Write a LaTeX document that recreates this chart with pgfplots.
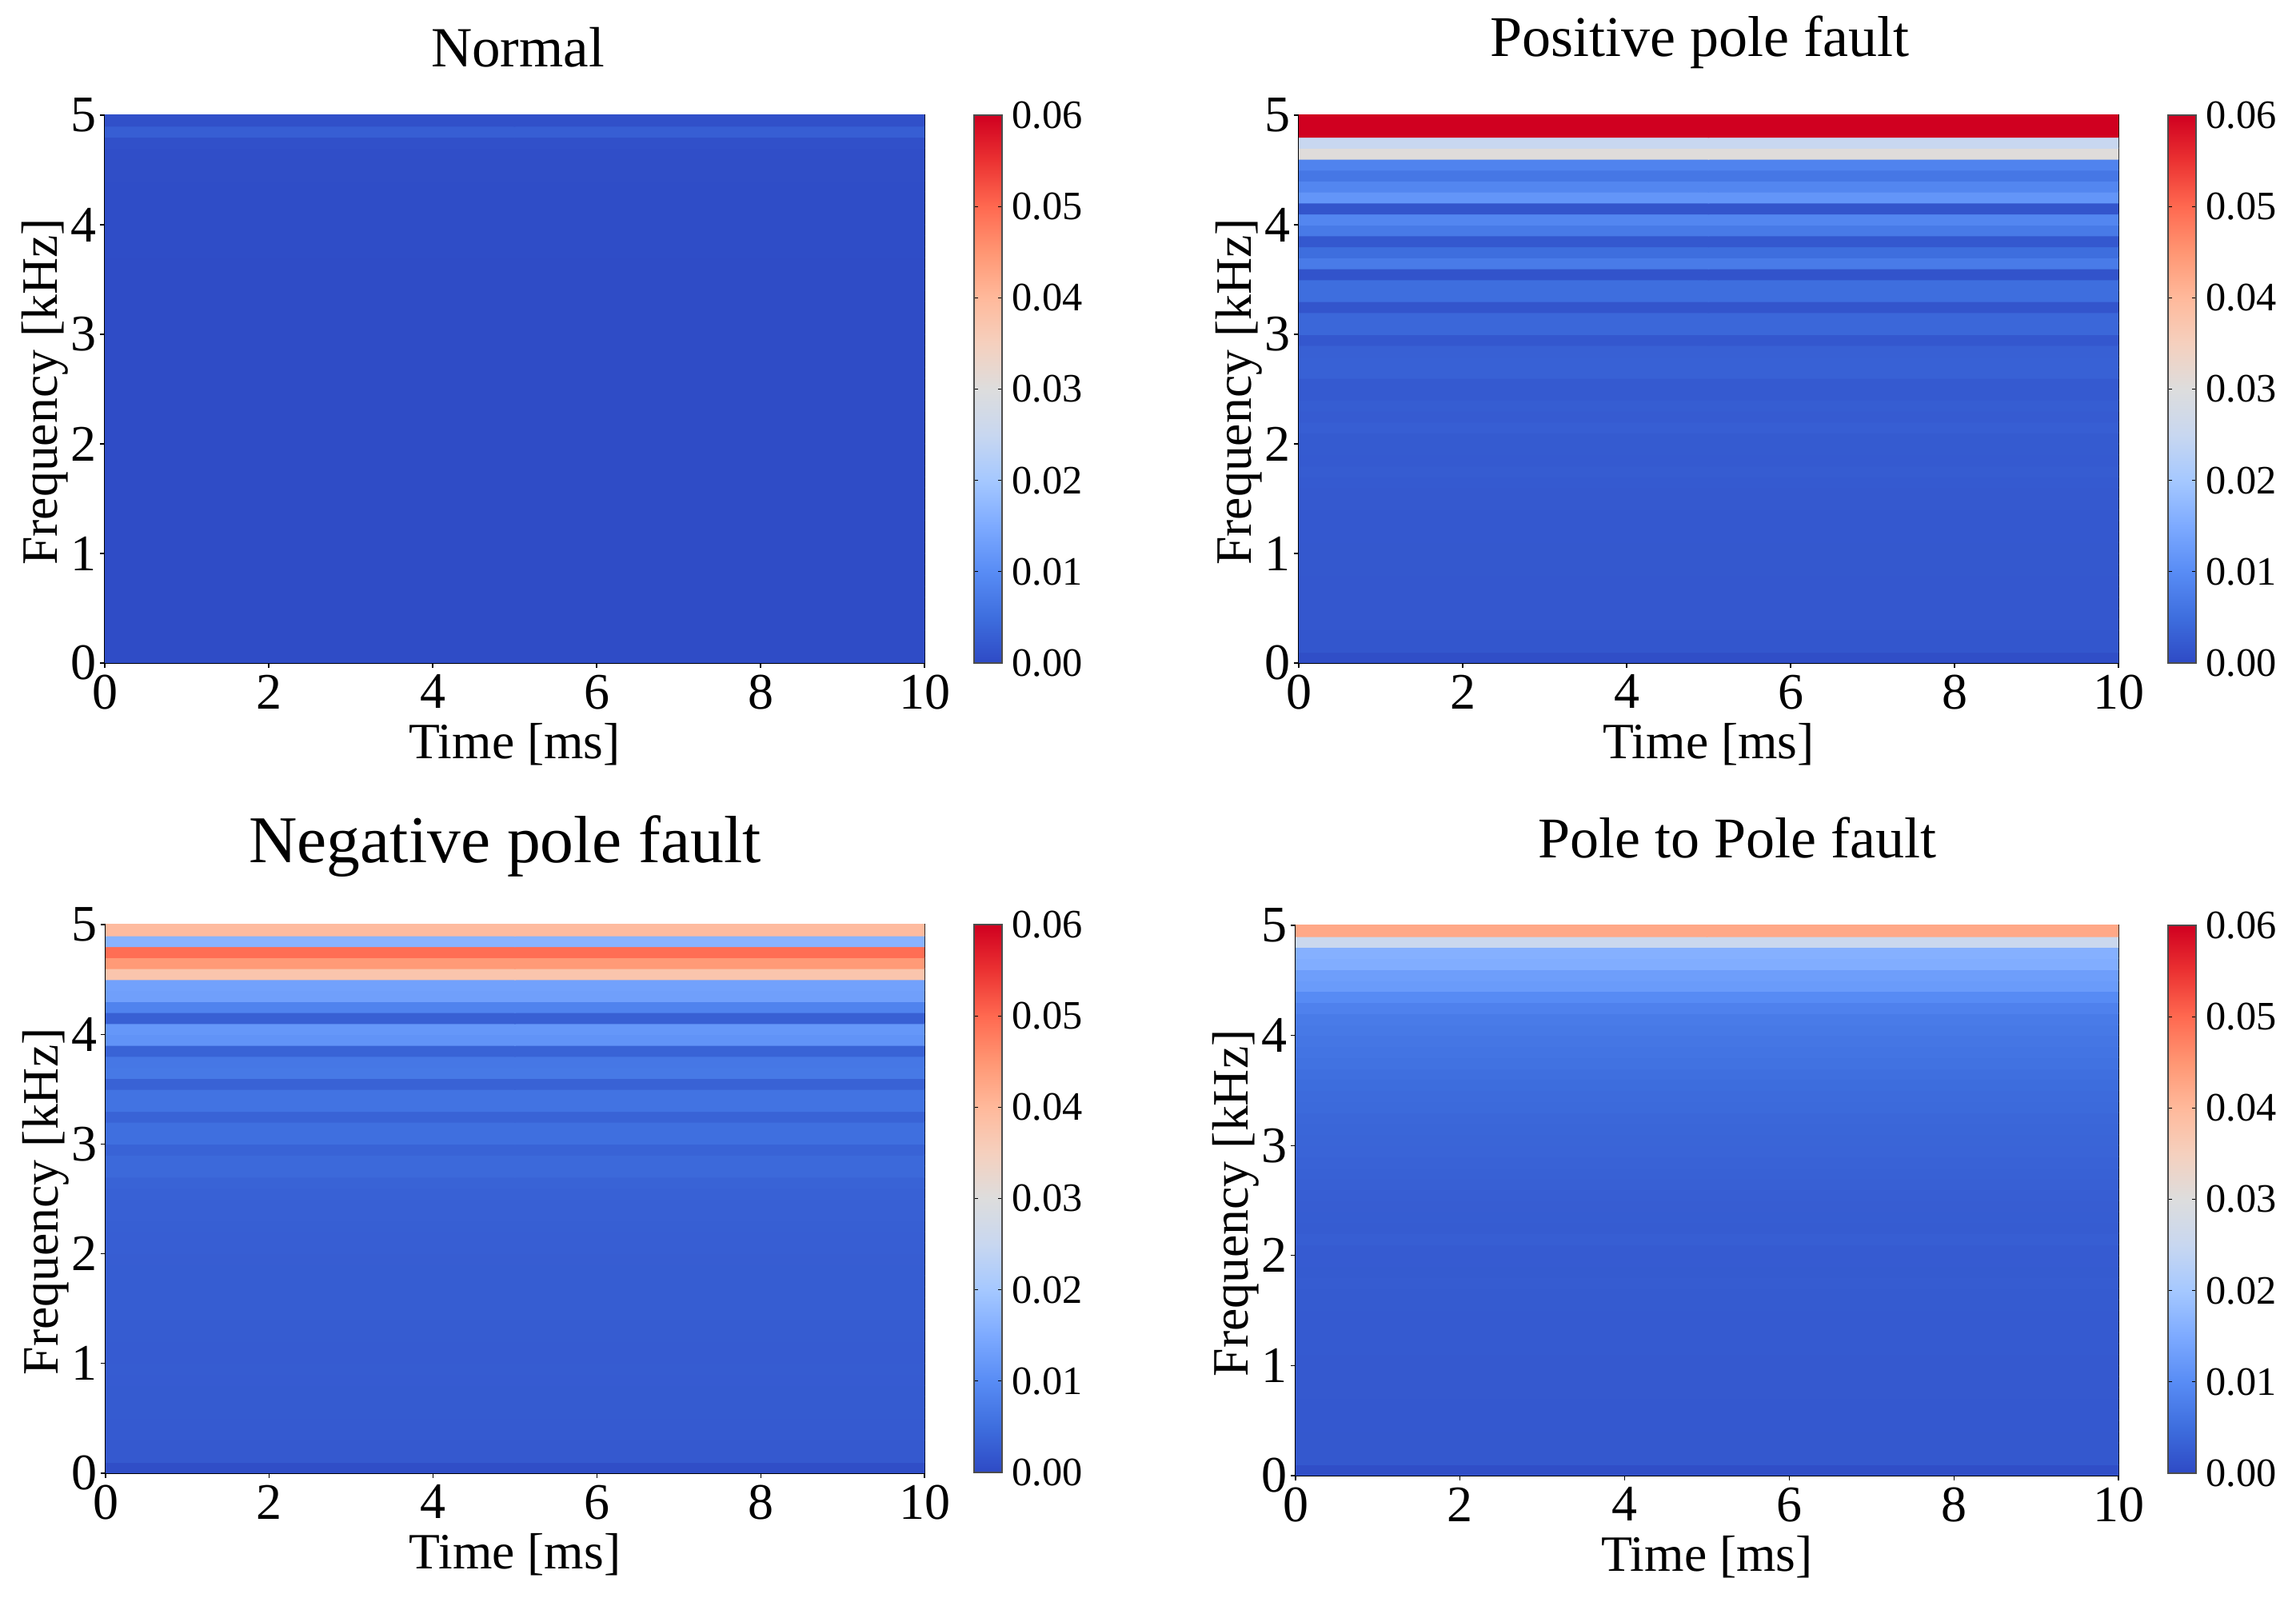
\documentclass[border=0pt]{standalone}
\usepackage{fontspec}
\setmainfont{Liberation Serif}
\usepackage{pgfplots}
\usepackage{pgfplotstable}
\pgfplotsset{compat=1.18}

% one row per 0.1 kHz band, constant over time
% y  normal  positive  negative  polepole
\pgfplotstableread{
y n p m q
0.05 .0003 .0005 .0005 .0005
0.15 .0003 .0017 .0021 .0019
0.25 .0003 .0017 .0021 .0019
0.35 .0003 .0018 .0022 .0019
0.45 .0003 .0018 .0022 .0020
0.55 .0003 .0018 .0023 .0020
0.65 .0003 .0018 .0023 .0020
0.75 .0003 .0018 .0023 .0021
0.85 .0003 .0019 .0024 .0021
0.95 .0003 .0019 .0025 .0021
1.05 .0003 .0019 .0024 .0021
1.15 .0003 .0020 .0024 .0022
1.25 .0003 .0020 .0025 .0022
1.35 .0003 .0020 .0025 .0022
1.45 .0003 .0021 .0026 .0022
1.55 .0003 .0021 .0026 .0023
1.65 .0003 .0022 .0026 .0023
1.75 .0003 .0025 .0026 .0025
1.85 .0003 .0022 .0026 .0023
1.95 .0003 .0023 .0027 .0024
2.05 .0003 .0023 .0028 .0024
2.15 .0003 .0028 .0028 .0028
2.25 .0003 .0024 .0029 .0025
2.35 .0003 .0026 .0030 .0026
2.45 .0003 .0022 .0030 .0027
2.55 .0003 .0022 .0032 .0028
2.65 .0003 .0032 .0035 .0030
2.75 .0003 .0032 .0043 .0032
2.85 .0003 .0030 .0043 .0034
2.95 .0003 .0018 .0035 .0036
3.05 .0003 .0040 .0052 .0037
3.15 .0003 .0040 .0052 .0039
3.25 .0003 .0015 .0035 .0041
3.35 .0003 .0050 .0058 .0044
3.45 .0003 .0050 .0058 .0046
3.55 .0003 .0012 .0033 .0048
3.65 .0003 .0072 .0068 .0052
3.75 .0004 .0050 .0065 .0056
3.85 .0004 .0020 .0035 .0060
3.95 .0004 .0070 .0112 .0064
4.05 .0004 .0090 .0118 .0068
4.15 .0004 .0015 .0030 .0072
4.25 .0004 .0115 .0085 .0082
4.35 .0004 .0090 .0132 .0098
4.45 .0005 .0065 .0135 .0125
4.55 .0005 .0085 .0375 .0130
4.65 .0006 .0305 .0445 .0155
4.75 .0008 .0250 .0495 .0160
4.85 .0028 .0600 .0165 .0255
4.95 .0008 .0600 .0395 .0425
}\bands
\pgfplotstablevertcat{\bandsall}{\bands}
\pgfplotstablevertcat{\bandsall}{\bands}

\pgfplotsset{
  colormap={cw}{rgb255=(46,74,197) rgb255=(62,110,222) rgb255=(88,140,245)
    rgb255=(125,170,255) rgb255=(165,200,255) rgb255=(200,215,240)
    rgb255=(221,221,221) rgb255=(245,208,190) rgb255=(255,185,155)
    rgb255=(255,150,115) rgb255=(255,105,80) rgb255=(235,50,50) rgb255=(208,0,32)},
  spec/.style={
    scale only axis, anchor=south west,
    xmin=0, xmax=10, ymin=0, ymax=5,
    xtick={0,2,...,10}, ytick={0,...,5},
    tick align=outside, tick pos=left,
    major tick length=1.5pt,
    tick style={black, line width=0.3pt},
    axis line style={black, line width=0.4pt},
    /pgf/number format/assume math mode=true,
    tick label style={font=\fontsize{16}{16}\selectfont, inner sep=0pt},
    xticklabel shift=2pt, yticklabel shift=1pt,
    xlabel={Time [ms]}, ylabel={Frequency [kHz]},
    xlabel style={font=\fontsize{15.9}{16}\selectfont, anchor=base,
      at={([yshift=-30pt]axis description cs:0.5,0)}},
    ylabel style={font=\fontsize{15.95}{16}\selectfont, anchor=base,
      at={([xshift=-15pt]axis description cs:0,0.495)}},
    point meta min=0, point meta max=0.06,
    colorbar,
    colorbar style={
      at={(parent axis.north east)}, anchor=north west,
      xshift=6.95pt, width=8.75pt, height=171.25pt,
      ymin=0, ymax=0.06,
      ytick={0,0.01,...,0.06},
      scaled y ticks=false,
      /pgf/number format/assume math mode=true,
      yticklabel={\pgfmathprintnumber[fixed,fixed zerofill,precision=2]{\tick}},
      yticklabel style={font=\fontsize{12.6}{13}\selectfont, inner sep=0pt},
      yticklabel shift=3pt,
      major tick length=1.3pt,
      tick style={black, line width=0.3pt},
      axis line style={black!70, line width=0.4pt},
    },
  },
  bandplot/.style={matrix plot*, mesh/rows=50, mesh/cols=2, mesh/ordering=y varies,
    point meta=explicit},
}

\begin{document}
\begin{tikzpicture}
\path[use as bounding box] (0,0) rectangle (717.75pt,499.5pt);

\begin{axis}[spec, at={(32.75pt,292.25pt)}, width=256.25pt, height=171.25pt,
  title={Normal},
  title style={font=\fontsize{17.75}{18}\selectfont, anchor=base,
    at={([yshift=9pt]axis description cs:0.504,1)}}]
\addplot[bandplot] table[x expr=\coordindex<50 ? 2.5 : 7.5, y=y, meta=n] {\bandsall};
\end{axis}

\begin{axis}[spec, at={(406pt,292.25pt)}, width=256.25pt, height=171.25pt,
  title={Positive pole fault},
  title style={font=\fontsize{18}{18}\selectfont, anchor=base,
    at={([yshift=12.25pt]axis description cs:0.489,1)}}]
\addplot[bandplot] table[x expr=\coordindex<50 ? 2.5 : 7.5, y=y, meta=p] {\bandsall};
\end{axis}

\begin{axis}[spec, at={(33pt,39pt)}, width=256pt, height=171.5pt,
  title={Negative pole fault},
  title style={font=\fontsize{20.9}{22}\selectfont, anchor=base,
    at={([yshift=13.35pt]axis description cs:0.488,1)}}]
\addplot[bandplot] table[x expr=\coordindex<50 ? 2.5 : 7.5, y=y, meta=m] {\bandsall};
\end{axis}

\begin{axis}[spec, at={(405pt,38.25pt)}, width=257.25pt, height=172pt,
  title={Pole to Pole fault},
  title style={font=\fontsize{18}{18}\selectfont, anchor=base,
    at={([yshift=15pt]axis description cs:0.537,1)}}]
\addplot[bandplot] table[x expr=\coordindex<50 ? 2.5 : 7.5, y=y, meta=q] {\bandsall};
\end{axis}
\end{tikzpicture}
\end{document}
